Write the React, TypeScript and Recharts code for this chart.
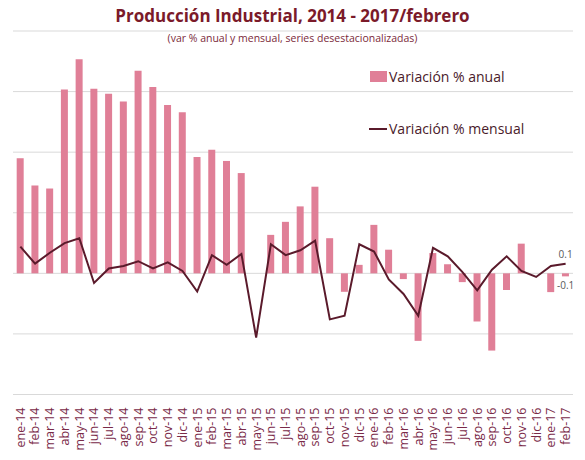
import React from 'react';
import {
  ComposedChart,
  Bar,
  Line,
  XAxis,
  YAxis,
  CartesianGrid,
  LabelList,
  ReferenceDot
} from 'recharts';

const months = [
  'ene-14', 'feb-14', 'mar-14', 'abr-14', 'may-14', 'jun-14', 'jul-14', 'ago-14', 'sep-14', 'oct-14', 'nov-14', 'dic-14',
  'ene-15', 'feb-15', 'mar-15', 'abr-15', 'may-15', 'jun-15', 'jul-15', 'ago-15', 'sep-15', 'oct-15', 'nov-15', 'dic-15',
  'ene-16', 'feb-16', 'mar-16', 'abr-16', 'may-16', 'jun-16', 'jul-16', 'ago-16', 'sep-16', 'oct-16', 'nov-16', 'dic-16',
  'ene-17', 'feb-17'
];

// variación % anual (barras)
const anual = [
  3.8, 2.9, 2.8, 6.07, 7.07, 6.09, 5.93, 5.67, 6.69, 6.15, 5.56, 5.32,
  3.84, 4.08, 3.71, 3.31, 0.0, 1.27, 1.7, 2.21, 2.86, 1.16, -0.61, 0.28,
  1.6, 0.78, -0.19, -2.23, 0.67, 0.3, -0.29, -1.59, -2.55, -0.55, 0.98, 0.0,
  -0.62, -0.1
];

// variación % mensual (línea)
const mensual = [
  0.22, 0.08, 0.17, 0.25, 0.29, -0.08, 0.04, 0.06, 0.1, 0.04, 0.09, 0.02,
  -0.15, 0.15, 0.07, 0.16, -0.53, 0.24, 0.15, 0.19, 0.27, -0.38, -0.35, 0.24,
  0.18, -0.05, -0.17, -0.35, 0.21, 0.14, 0.01, -0.14, 0.03, 0.14, 0.02, -0.03,
  0.06, 0.08
];

const anualTicks = [-4, -2, 0, 2, 4, 6, 8];

const data = months.map((m, i) => ({ mes: m, anual: anual[i], mensual: mensual[i] }));

const BAR = '#E07F97';
const LINE = '#5A1A2B';
const lastIdx = months.length - 1;

const MonthTick = (props: any) => {
  const { x, y, payload } = props;
  return (
    <text
      transform={`translate(${x},${y}) rotate(-90)`}
      textAnchor="end"
      dy="0.35em"
      fontSize={12.5}
      fontFamily="'Open Sans', sans-serif"
      fill="#7A2A48"
    >
      {payload.value}
    </text>
  );
};

const lineLastLabel = (props: any) => {
  const { x, y, index, value } = props;
  if (index !== lastIdx) return null;
  return (
    <text x={x} y={y - 6} textAnchor="middle" fontSize={10} fontFamily="'Open Sans', sans-serif" fill="#595959">
      {Number(value).toFixed(1)}
    </text>
  );
};

const barLastLabel = (props: any) => {
  const { cx, cy } = props;
  return (
    <text x={cx} y={cy + 13} textAnchor="middle" fontSize={10} fontFamily="'Open Sans', sans-serif" fill="#595959">
      {anual[lastIdx].toFixed(1)}
    </text>
  );
};

export default function App() {
  return (
    <div style={{ position: 'absolute', left: 0, top: 0, width: 585, height: 460, background: '#fff', fontFamily: "'Open Sans', sans-serif" }}>
      <ComposedChart
        width={585}
        height={460}
        data={data}
        margin={{ top: 31, right: 12, left: 13, bottom: 0 }}
        barCategoryGap="25%"
      >
        <CartesianGrid vertical={false} stroke="#D9D9D9" strokeWidth={1} yAxisId="anual" />
        <XAxis
          dataKey="mes"
          interval={0}
          axisLine={false}
          tickLine={false}
          tickSize={0}
          tickMargin={13}
          height={65.5}
          tick={<MonthTick />}
        />
        <YAxis yAxisId="anual" hide domain={[-4, 8]} ticks={anualTicks} />
        <YAxis yAxisId="mensual" hide orientation="right" domain={[-1, 2]} />
        <Bar yAxisId="anual" dataKey="anual" fill={BAR} isAnimationActive={false} />
        <Line
          yAxisId="mensual"
          type="linear"
          dataKey="mensual"
          stroke={LINE}
          strokeWidth={2}
          dot={false}
          isAnimationActive={false}
        >
          <LabelList dataKey="mensual" content={lineLastLabel} />
        </Line>
        <ReferenceDot
          yAxisId="anual"
          x={months[lastIdx]}
          y={anual[lastIdx]}
          r={0}
          shape={barLastLabel}
        />
      </ComposedChart>

      <div style={{ position: 'absolute', left: 0, top: 4, width: 585, textAlign: 'center', fontSize: 17, fontWeight: 700, color: '#7B1A2A', fontFamily: "'Liberation Sans Narrow', 'Open Sans', sans-serif" }}>
        Producción Industrial, 2014 - 2017/febrero
      </div>
      <div style={{ position: 'absolute', left: 0, top: 31, width: 585, textAlign: 'center', fontSize: 10.5, color: '#7B2A3A', fontFamily: "'Liberation Sans Narrow', 'Open Sans', sans-serif" }}>
        (var % anual y mensual, series desestacionalizadas)
      </div>

      <div style={{ position: 'absolute', left: 370, top: 67, display: 'flex', alignItems: 'center', fontSize: 14, color: '#4A1A2A' }}>
        <span style={{ display: 'inline-block', width: 17, height: 11, background: BAR, marginRight: 2 }} />
        <span>Variación % anual</span>
      </div>
      <div style={{ position: 'absolute', left: 369, top: 119, display: 'flex', alignItems: 'center', fontSize: 14, color: '#4A1A2A' }}>
        <span style={{ display: 'inline-block', width: 18, height: 2, background: LINE, marginRight: 2 }} />
        <span>Variación % mensual</span>
      </div>
    </div>
  );
}
